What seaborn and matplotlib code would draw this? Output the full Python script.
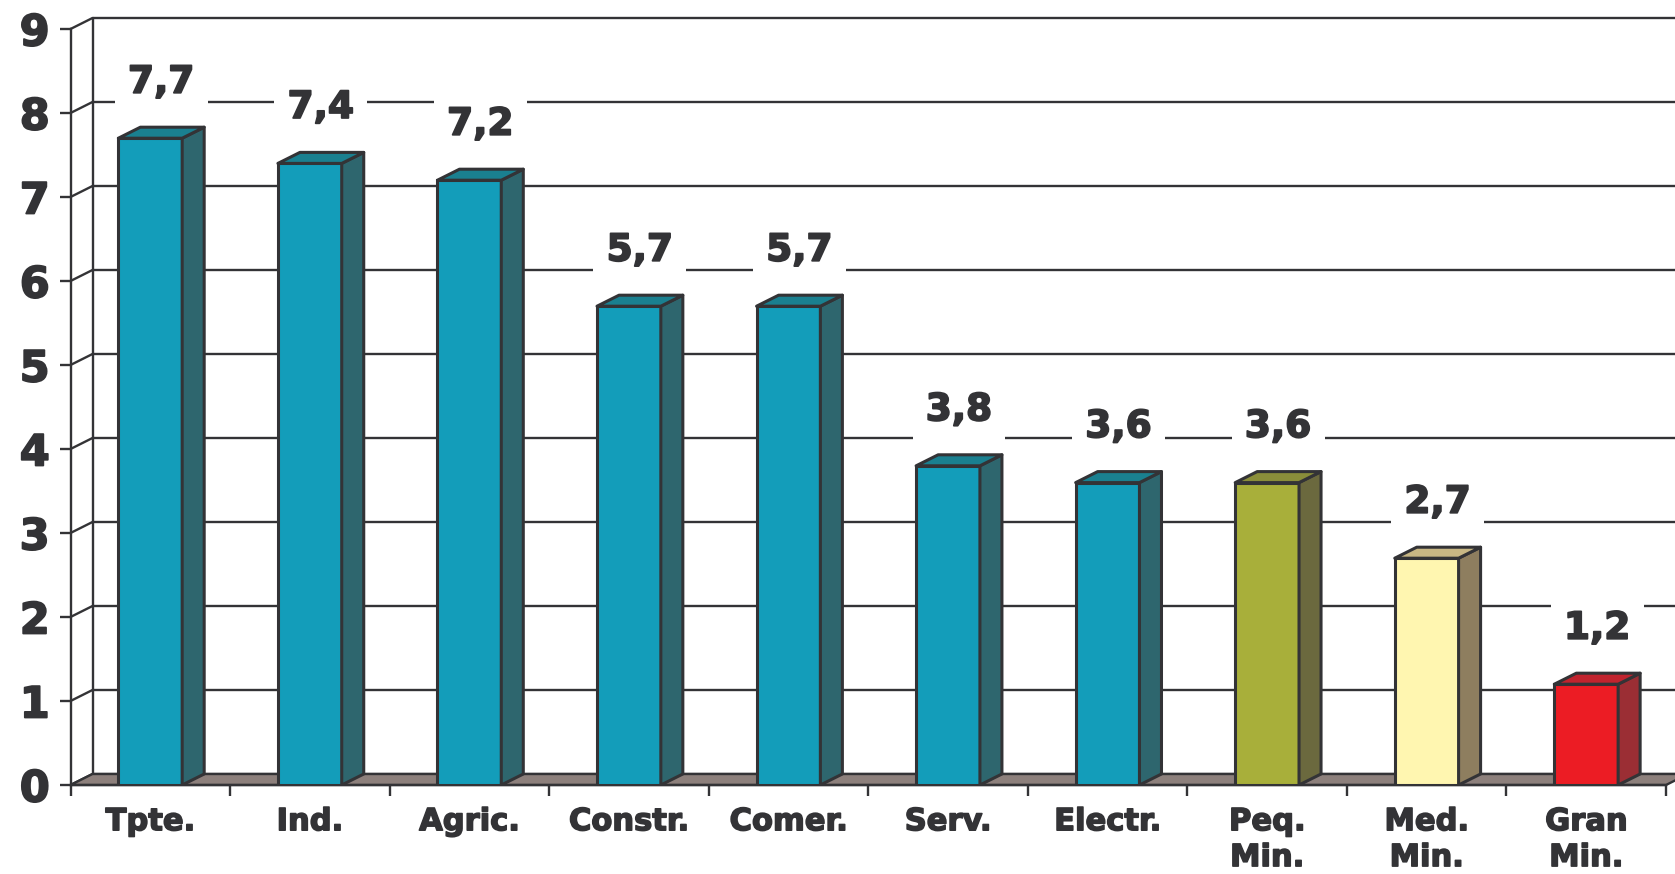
import matplotlib
matplotlib.use('Agg')
import matplotlib.pyplot as plt
import matplotlib.patheffects as pe
import seaborn as sns
import pandas as pd
from matplotlib.patches import Polygon

# datos
sectores = ['Tpte.', 'Ind.', 'Agric.', 'Constr.', 'Comer.', 'Serv.', 'Electr.',
            'Peq.\nMin.', 'Med.\nMin.', 'Gran\nMin.']
valores = [7.7, 7.4, 7.2, 5.7, 5.7, 3.8, 3.6, 3.6, 2.7, 1.2]
etiquetas = ['7,7', '7,4', '7,2', '5,7', '5,7', '3,8', '3,6', '3,6', '2,7', '1,2']
color_frente = ['#139dba'] * 7 + ['#a8af3a', '#fff6b0', '#ec1c24']
color_lado = ['#2e666e'] * 7 + ['#6b693e', '#8e7e5f', '#9b2e34']
color_techo = ['#1a8090'] * 7 + ['#8a8e3a', '#c8b784', '#c1232e']

df = pd.DataFrame({'sector': sectores, 'valor': valores})

sns.set_theme(style='white')
plt.rcParams['font.family'] = ['DejaVu Sans']
plt.rcParams['font.weight'] = 'bold'
oscuro = '#333336'
grueso = [pe.withStroke(linewidth=1.3, foreground=oscuro)]

W, H = 1675, 874
x_izq, x_der = 70.5, 1666
y_cero, y_nueve = 785, 29
fig = plt.figure(figsize=(W / 100, H / 100), dpi=100)
ax = fig.add_axes([x_izq / W, (H - y_cero) / H, (x_der - x_izq) / W, (y_cero - y_nueve) / H])

sns.barplot(data=df, x='sector', y='valor', hue='sector', palette=color_frente,
            legend=False, width=0.4, saturation=1, edgecolor=oscuro, linewidth=2.2,
            ax=ax, zorder=3)
ax.set_xlim(-0.5, 9.5)
ax.set_ylim(0, 9)

# profundidad del efecto 3D (en pixeles -> unidades de datos)
dx = 22 / ((x_der - x_izq) / 10)
dy = 11 / ((y_cero - y_nueve) / 9)

# pared del fondo y lineas guia
for k in range(10):
    ax.plot([-0.5 + dx, 10.5], [k + dy, k + dy], color=oscuro, lw=1.7, zorder=1, clip_on=False)
    ax.plot([-0.5, -0.5 + dx], [k, k + dy], color=oscuro, lw=1.7, zorder=1, clip_on=False)
ax.plot([-0.5 + dx, -0.5 + dx], [dy, 9 + dy], color=oscuro, lw=1.7, zorder=1, clip_on=False)

# piso
piso = Polygon([(-0.5, 0), (9.5, 0), (9.5 + dx, dy), (-0.5 + dx, dy)], closed=True,
               facecolor='#8d807c', edgecolor=oscuro, lw=1.7, zorder=2, clip_on=False)
ax.add_patch(piso)

# caras laterales y superiores de las barras
barras = sorted(ax.patches[:len(valores)], key=lambda p: p.get_x())
for p, cl, ct in zip(barras, color_lado, color_techo):
    x0, w, h = p.get_x(), p.get_width(), p.get_height()
    x1 = x0 + w
    lado = Polygon([(x1, 0), (x1 + dx, dy), (x1 + dx, h + dy), (x1, h)], closed=True,
                   facecolor=cl, edgecolor=oscuro, lw=2.2, zorder=3, joinstyle='round')
    techo = Polygon([(x0, h), (x1, h), (x1 + dx, h + dy), (x0 + dx, h + dy)], closed=True,
                    facecolor=ct, edgecolor=oscuro, lw=2.2, zorder=3, joinstyle='round')
    ax.add_patch(lado)
    ax.add_patch(techo)

# etiquetas de valor
for i, (v, t) in enumerate(zip(valores, etiquetas)):
    ax.text(i + dx / 2, v + 0.66, t, ha='center', va='center', fontsize=27,
            fontweight='bold', color=oscuro, zorder=4, path_effects=grueso,
            bbox=dict(facecolor='white', edgecolor='none', boxstyle='square,pad=0.35'))

# ejes
sns.despine(ax=ax, top=True, right=True)
for s in ['left', 'bottom']:
    ax.spines[s].set_color(oscuro)
    ax.spines[s].set_linewidth(1.7)
    ax.spines[s].set_zorder(2.5)
ax.set_yticks(range(10))
ax.tick_params(axis='y', length=8, width=1.7, color=oscuro, labelsize=31,
               labelcolor=oscuro, pad=7, left=True)
ax.set_xticks(range(10))
ax.set_xticklabels(sectores)
ax.set_xticks([k - 0.5 for k in range(11)], minor=True)
ax.tick_params(axis='x', which='major', length=0, labelsize=22, labelcolor=oscuro, pad=16)
ax.tick_params(axis='x', which='minor', length=8, width=1.7, color=oscuro, bottom=True)
for t in ax.get_xticklabels():
    t.set_linespacing(1.3)
    t.set_path_effects([pe.withStroke(linewidth=1.1, foreground=oscuro)])
for t in ax.get_yticklabels():
    t.set_path_effects(grueso)
ax.set_xlabel('')
ax.set_ylabel('')
ax.patch.set_alpha(0)

fig.savefig('out.png', dpi=100)
